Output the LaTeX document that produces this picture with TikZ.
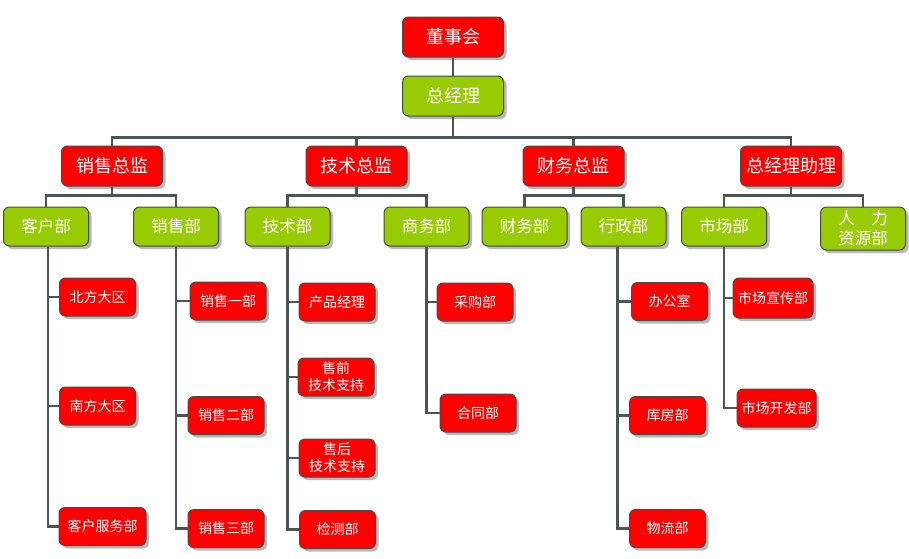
\documentclass[tikz,border=0pt]{standalone}
\usepackage{fontspec}
\newfontfamily\cjk{Noto Sans CJK SC}
\usetikzlibrary{shadows}
\definecolor{BoxRed}{HTML}{FF0000}
\definecolor{BoxGreen}{HTML}{99CC00}
\definecolor{Wire}{HTML}{4A5559}
\definecolor{Rim}{HTML}{454A4C}

\begin{document}
\begin{tikzpicture}[
  x=1pt,y=-1pt,font=\cjk,
  link/.style={draw=Wire,line width=2.6pt},
  component/.style={draw=Rim,line width=1pt,rounded corners=6pt,text=white,align=center,inner sep=0pt,
    drop shadow={shadow xshift=3pt,shadow yshift=-3pt,fill=black!28,opacity=1}},
  chief/.style={component,fill=BoxRed,minimum width=101pt,minimum height=40pt,font=\cjk\fontsize{18}{21}\selectfont},
  head/.style={chief,fill=BoxGreen},
  dept/.style={component,fill=BoxGreen,minimum width=85pt,minimum height=39pt,font=\cjk\fontsize{16.5}{20}\selectfont},
  unit/.style={component,fill=BoxRed,minimum width=76pt,minimum height=38pt,font=\cjk\fontsize{14}{17}\selectfont}
]
\useasboundingbox (0,0) rectangle (909,558);
% top
\node[chief] (dsh) at (453,37) {董事会};
\node[head] (zjl) at (453,96) {总经理};
% directors
\node[chief] (xszj) at (112,166) {销售总监};
\node[chief] (jszj) at (356.5,166) {技术总监};
\node[chief] (cwzj) at (573.5,166) {财务总监};
\node[chief] (zlzl) at (791,166) {总经理助理};
% departments
\node[dept] (khb) at (46,226.5) {客户部};
\node[dept] (xsb) at (176,226.5) {销售部};
\node[dept] (jsb) at (287.5,226.5) {技术部};
\node[dept] (swb) at (426.5,226.5) {商务部};
\node[dept] (cwb) at (524.5,226.5) {财务部};
\node[dept] (xzb) at (623.5,226.5) {行政部};
\node[dept] (scb) at (724,226.5) {市场部};
\node[dept,minimum height=43pt] (rlzyb) at (863,228.5) {人\hspace{1em}力\\资源部};
% units
\node[unit] (bfdq) at (97.5,297) {北方大区};
\node[unit] (nfdq) at (97.5,406) {南方大区};
\node[unit,minimum width=87pt] (khfwb) at (102.5,526.5) {客户服务部};
\node[unit] (xs1) at (228,301) {销售一部};
\node[unit] (xs2) at (226,415.5) {销售二部};
\node[unit] (xs3) at (226,528.5) {销售三部};
\node[unit] (cpjl) at (337,302) {产品经理};
\node[unit] (sqzc) at (336,377) {售前\\技术支持};
\node[unit] (shzc) at (337,458) {售后\\技术支持};
\node[unit] (jcb) at (337.5,529.5) {检测部};
\node[unit] (cgb) at (475,302) {采购部};
\node[unit] (htb) at (478,413) {合同部};
\node[unit] (bgs) at (669.5,301.5) {办公室};
\node[unit] (kfb) at (667.5,415.5) {库房部};
\node[unit] (wlb) at (667.5,528.5) {物流部};
\node[unit,minimum width=80pt,minimum height=40pt] (scxc) at (773,298) {市场宣传部};
\node[unit,minimum width=79pt] (sckf) at (776.5,408) {市场开发部};
% connectors
\draw[link] (dsh.south) -- (zjl.north);
\foreach \c in {xszj,jszj,cwzj,zlzl}
  \draw[link] (zjl.south) -- ++(0,21) -| (\c.north);
\foreach \p/\a/\b in {xszj/khb/xsb,jszj/jsb/swb,cwzj/cwb/xzb,zlzl/scb/rlzyb} {
  \draw[link] (\p.south) -- ++(0,9) -| (\a.north);
  \draw[link] (\p.south) -- ++(0,9) -| (\b.north);
}
\foreach \c in {bfdq,nfdq,khfwb} \draw[link] ([xshift=2pt]khb.south) |- (\c.west);
\foreach \c in {xs1,xs2,xs3} \draw[link] (xsb.south) |- (\c.west);
\foreach \c in {cpjl,sqzc,shzc,jcb} \draw[link] (jsb.south) |- (\c.west);
\foreach \c in {cgb,htb} \draw[link] (swb.south) |- (\c.west);
\foreach \c in {bgs,kfb,wlb} \draw[link] ([xshift=-6pt]xzb.south) |- (\c.west);
\foreach \c in {scxc,sckf} \draw[link] (scb.south) |- (\c.west);
\end{tikzpicture}
\end{document}
